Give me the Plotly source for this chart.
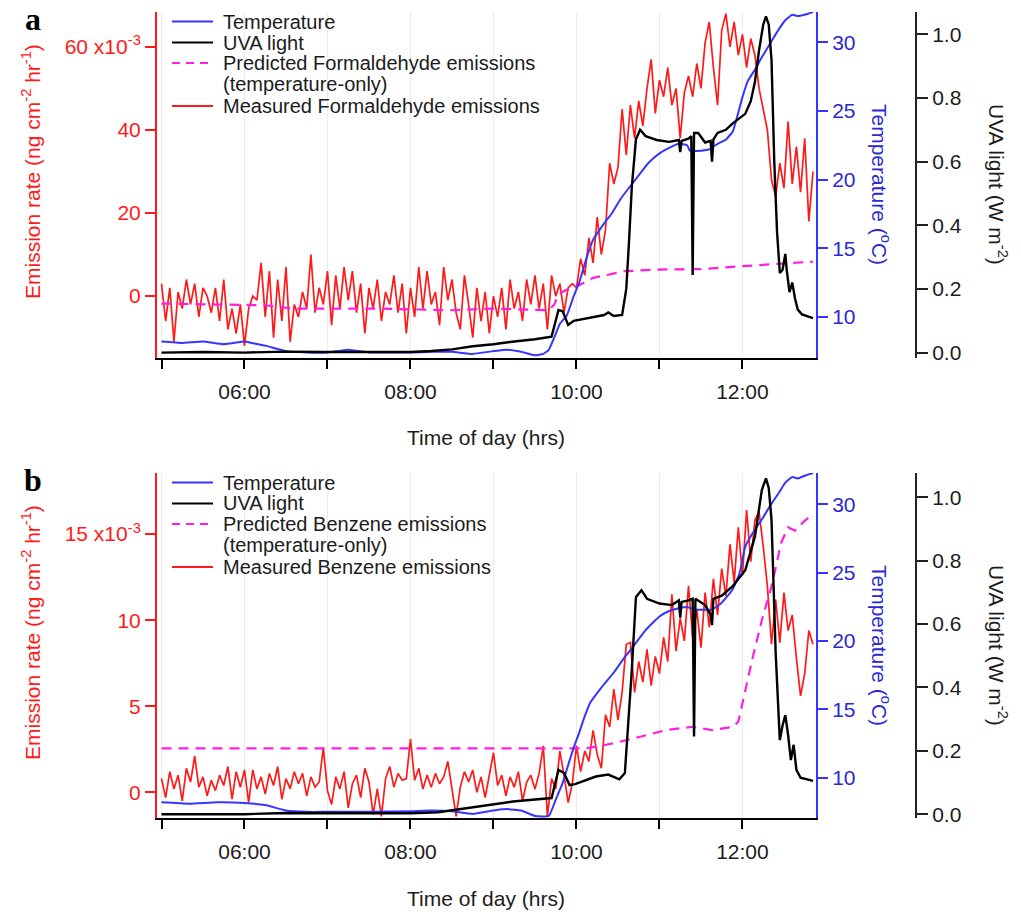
import plotly.graph_objects as go

W, H = 1021, 915
DAY = "2000-01-01 "

# ---------------- Panel a: formaldehyde ----------------
# measured emission rate (x10^-3 ng cm-2 hr-1), one sample every 3 min from 05:00
hcho_measured = [
    3, -6, 2, -11, 1, -3, 4, -2, 3, -5, 2, 0, -4, 2, -6, 4, -8, -3, -9, -2,
    -12, -3, 0, -1, 8, -5, 6, -10, 4, -6, 7, -11, -2, -5, 1, -3, 10, -4, 2, -2,
    6, -7, 5, -3, 7, -1, 6, -4, 3, -9, 2, -3, 4, -6, 1, -2, 5, -4, 3, -9,
    2, -5, 7, -3, 6, -2, 1, -7, 7, -1, 4, -4, -8, 5, -2, -10, 2, -6, 1, -9,
    0, -5, 2, -8, 4, -3, 1, -6, 4, -2, 5, -3, 3, -8, 5, 0, 3, -4, 2, 3,
    2, 9, 5, 14, 8, 19, 10, 16, 32, 27, 31, 45, 34, 46, 38, 47, 41, 50, 57, 44,
    52, 48, 55, 46, 50, 38, 49, 53, 48, 56, 50, 61, 66, 55, 46, 64, 68, 60, 66, 58,
    63, 55, 62, 58, 50, 45, 40, 28, 24, 32, 26, 42, 27, 36, 25, 38, 18, 30,
]

hcho_pred_time = ["05:00", "05:30", "06:00", "06:15", "06:35", "07:00", "07:40", "08:00",
                  "08:30", "09:00", "09:30", "09:40", "09:44", "09:47", "09:52", "10:00",
                  "10:12", "10:35", "11:00", "11:30", "12:00", "12:30", "12:51"]
hcho_pred = [-1.8, -1.9, -2.0, -2.2, -3.0, -3.0, -3.0, -3.2,
             -3.4, -3.0, -3.3, -3.4, -2.0, 0.4, 1.4, 2.3,
             4.4, 6.0, 6.4, 6.5, 7.2, 7.8, 8.3]

temp_a_time = ["05:00", "05:15", "05:30", "05:45", "06:00", "06:05", "06:15", "06:30", "06:45",
               "07:00", "07:15", "07:30", "07:45", "08:00", "08:15", "08:30", "08:45", "09:00",
               "09:10", "09:20", "09:30", "09:36", "09:40", "09:44", "09:48", "09:53", "09:58",
               "10:02", "10:07", "10:12", "10:20", "10:26", "10:32", "10:38", "10:45", "10:52",
               "11:00", "11:07", "11:14", "11:20", "11:22", "11:30", "11:36", "11:42", "11:48",
               "11:53", "11:56", "12:00", "12:04", "12:09", "12:14", "12:20", "12:26", "12:31",
               "12:36", "12:40", "12:45", "12:51"]
temp_a = [8.2, 8.1, 8.2, 8.0, 8.2, 8.1, 7.9, 7.5, 7.4,
          7.4, 7.6, 7.4, 7.4, 7.4, 7.45, 7.45, 7.3, 7.5,
          7.6, 7.45, 7.2, 7.3, 7.6, 8.5, 9.5, 10.1, 11.5,
          12.5, 14.2, 15.6, 16.8, 17.6, 18.6, 19.4, 20.3, 21.2,
          21.9, 22.3, 22.6, 22.5, 22.1, 22.1, 22.2, 22.6, 22.9,
          23.5, 24.5, 26.0, 27.2, 28.0, 28.9, 29.9, 30.9, 31.6,
          32.0, 31.9, 32.0, 32.2]

uva_a_time = ["05:00", "05:30", "06:00", "06:30", "07:00", "07:30", "08:00", "08:15", "08:30",
              "08:45", "09:00", "09:15", "09:30", "09:42", "09:45", "09:47", "09:50", "09:54",
              "09:58", "10:05", "10:14", "10:20", "10:23", "10:27", "10:33", "10:36", "10:38",
              "10:40", "10:43", "10:46", "10:50", "10:58", "11:07", "11:14", "11:15", "11:16",
              "11:21", "11:23", "11:24", "11:25", "11:28", "11:33", "11:37", "11:38", "11:39",
              "11:42", "11:48", "11:53", "12:02", "12:06", "12:09", "12:12", "12:15", "12:17",
              "12:19", "12:21", "12:23", "12:25", "12:27", "12:29", "12:31", "12:32", "12:34",
              "12:36", "12:38", "12:40", "12:43", "12:47", "12:51"]
uva_a = [0.0, 0.002, 0.0, 0.003, 0.002, 0.003, 0.002, 0.005, 0.01,
         0.02, 0.026, 0.035, 0.042, 0.05, 0.1, 0.134, 0.13, 0.087,
         0.1, 0.105, 0.113, 0.118, 0.126, 0.115, 0.118, 0.2, 0.35,
         0.52, 0.67, 0.70, 0.68, 0.668, 0.662, 0.668, 0.63, 0.665,
         0.672, 0.68, 0.244, 0.69, 0.69, 0.66, 0.665, 0.6, 0.67,
         0.69, 0.70, 0.72, 0.75, 0.79, 0.85, 0.95, 1.03, 1.056,
         1.03, 0.92, 0.6, 0.38, 0.25, 0.26, 0.31, 0.26, 0.19,
         0.22, 0.17, 0.135, 0.12, 0.113, 0.108]

# ---------------- Panel b: benzene ----------------
benz_measured = [
    0.8, -0.3, 1.2, 0.2, 1.0, -0.5, 1.4, 0.6, 2.1, 0.3, 0.9, -0.2, 0.7, 0.1, 1.0, 0.4, 1.5, -0.4, 1.2, 0.3,
    1.3, -0.6, 1.3, 0.2, 0.9, -0.1, 1.1, 0.4, 1.5, -0.4, 0.8, 0.2, 1.2, 0.5, 1.1, -0.2, 0.9, 0.3, 0.6, 2.6,
    0.1, -0.7, 0.9, 0.2, 1.2, -0.9, 0.5, 1.0, -0.3, 1.4, 0.6, -1.3, 0.2, -1.4, 0.8, 1.5, 0.3, 1.1, 0.7, 0.8,
    3.1, 0.7, 1.4, 0.2, 1.0, 0.3, 1.1, 0.5, 0.9, 1.8, 0.2, -1.4, 0.3, 1.2, 0.6, 1.3, 0.0, 0.9, -0.3, 1.1,
    2.3, 0.4, 1.0, -0.2, 0.9, 0.3, 1.2, -0.5, 0.6, 1.0, 0.2, 1.1, 2.7, -1.4, 0.8, 0.2, 2.4, 1.0, -0.6, 0.5,
    2.7, 1.2, 2.4, 1.8, 3.6, 2.2, 1.4, 4.5, 3.8, 6.0, 4.2, 5.8, 8.6, 8.7, 5.8, 7.6, 6.4, 8.3, 6.2, 7.9,
    6.9, 9.0, 7.6, 11.5, 8.2, 10.1, 8.8, 12.0, 9.0, 10.6, 8.4, 11.6, 9.6, 12.4, 10.3, 13.0, 11.4, 14.4, 12.2, 15.4,
    12.6, 16.4, 13.4, 15.8, 16.3, 14.3, 12.0, 8.6, 11.2, 8.7, 11.6, 9.4, 10.3, 7.8, 5.6, 6.9, 9.4, 8.6,
]

benz_pred_time = ["05:00", "10:04", "10:10", "10:27", "10:46", "11:05", "11:24", "11:38", "11:53",
                  "11:57", "12:00", "12:07", "12:14", "12:21", "12:28", "12:33", "12:38", "12:44", "12:51"]
benz_pred = [2.55, 2.55, 2.6, 2.85, 3.23, 3.62, 3.81, 3.62, 3.8,
             4.1, 5.17, 7.7, 10.0, 11.95, 14.5, 15.4, 15.2, 15.7, 16.2]

temp_b_time = ["05:00", "05:20", "05:40", "06:00", "06:15", "06:30", "06:45", "07:00", "07:30",
               "08:00", "08:15", "08:30", "08:45", "09:00", "09:10", "09:20", "09:30", "09:40",
               "09:45", "09:50", "09:53", "09:58", "10:02", "10:06", "10:10", "10:18", "10:27",
               "10:34", "10:41", "10:50", "11:00", "11:07", "11:14", "11:20", "11:26", "11:32",
               "11:38", "11:45", "11:53", "11:58", "12:02", "12:08", "12:14", "12:20", "12:26",
               "12:31", "12:36", "12:40", "12:45", "12:51"]
temp_b = [8.2, 8.1, 8.2, 8.15, 8.0, 7.6, 7.5, 7.5, 7.5,
          7.55, 7.6, 7.55, 7.35, 7.6, 7.7, 7.6, 7.2, 7.2,
          8.4, 9.6, 10.6, 12.2, 13.3, 14.5, 15.5, 16.6, 17.7,
          18.7, 19.6, 20.8, 21.8, 22.2, 22.4, 22.5, 22.3, 22.3,
          22.3, 22.8, 23.8, 25.0, 26.9, 28.0, 28.9, 29.9, 30.8,
          31.6, 32.0, 31.9, 32.1, 32.3]

uva_b_time = ["05:00", "06:00", "06:30", "07:00", "07:30", "08:00", "08:20", "08:30", "08:50",
              "09:14", "09:42", "09:45", "09:47", "09:51", "09:55", "09:59", "10:14", "10:23",
              "10:31", "10:35", "10:37", "10:40", "10:43", "10:47", "10:51", "11:00", "11:09",
              "11:14", "11:15", "11:16", "11:21", "11:24", "11:25", "11:26", "11:33", "11:37",
              "11:38", "11:39", "11:45", "11:53", "12:02", "12:09", "12:14", "12:17", "12:19",
              "12:21", "12:24", "12:26", "12:27", "12:29", "12:31", "12:33", "12:35", "12:37",
              "12:39", "12:42", "12:46", "12:51"]
uva_b = [0.0, 0.0, 0.004, 0.003, 0.002, 0.003, 0.006, 0.012, 0.024,
         0.04, 0.051, 0.11, 0.14, 0.13, 0.092, 0.095, 0.119, 0.125,
         0.11, 0.13, 0.25, 0.455, 0.686, 0.707, 0.68, 0.665, 0.66,
         0.675, 0.62, 0.67, 0.675, 0.68, 0.245, 0.68, 0.66, 0.63,
         0.597, 0.68, 0.69, 0.72, 0.77, 0.876, 1.023, 1.06, 1.03,
         0.93, 0.51, 0.3, 0.234, 0.28, 0.313, 0.25, 0.171, 0.219,
         0.14, 0.115, 0.11, 0.105]

# ---------------- helpers ----------------
RED = "#ff1a1a"
BLUE = "#3535ff"
BLUE_TXT = "#2a2ad0"
MAGENTA = "#ff1ee0"
BLACK = "#000000"
TXT = "#1c1c1c"
FONT = "Liberation Sans, Arial, sans-serif"
FS = 21
FS_LEG = 20


def px(x):
    return x / W


def py(y):
    return 1 - y / H


def stamp(times):
    return [DAY + t for t in times]


emis_time = stamp([f"{(300 + 3 * i) // 60:02d}:{(300 + 3 * i) % 60:02d}"
                   for i in range(len(hcho_measured))])

fig = go.Figure()

panels = [
    dict(x="x", y="y", y2="y2", y3="y3", meas=hcho_measured, pt=hcho_pred_time, pv=hcho_pred,
         tt=temp_a_time, tv=temp_a, ut=uva_a_time, uv=uva_a),
    dict(x="x2", y="y4", y2="y5", y3="y6", meas=benz_measured, pt=benz_pred_time, pv=benz_pred,
         tt=temp_b_time, tv=temp_b, ut=uva_b_time, uv=uva_b),
]

for p in panels:
    fig.add_trace(go.Scatter(x=emis_time, y=p["meas"], mode="lines", xaxis=p["x"], yaxis=p["y"],
                             line=dict(color=RED, width=1.7), showlegend=False))
    fig.add_trace(go.Scatter(x=stamp(p["pt"]), y=p["pv"], mode="lines", xaxis=p["x"], yaxis=p["y"],
                             line=dict(color=MAGENTA, width=2.2, dash="10px,7px"), showlegend=False))
    fig.add_trace(go.Scatter(x=stamp(p["tt"]), y=p["tv"], mode="lines", xaxis=p["x"], yaxis=p["y2"],
                             line=dict(color=BLUE, width=2, shape="spline", smoothing=0.4),
                             showlegend=False))
    fig.add_trace(go.Scatter(x=stamp(p["ut"]), y=p["uv"], mode="lines", xaxis=p["x"], yaxis=p["y3"],
                             line=dict(color=BLACK, width=2.4), showlegend=False))


def xaxis_cfg(anchor):
    return dict(
        domain=[px(157), px(816)], anchor=anchor, type="date",
        range=[DAY + "04:56:45", DAY + "12:53:10"],
        tick0=DAY + "00:00", dtick=7200000, tickformat="%H:%M",
        ticks="outside", ticklen=9, tickwidth=1.5, tickcolor=BLACK,
        showline=True, linecolor=BLACK, linewidth=1.5,
        showgrid=True, gridcolor="#ececec", gridwidth=1, zeroline=False,
        minor=dict(dtick=3600000, tick0=DAY + "00:00", ticks="outside", ticklen=9,
                   tickwidth=1.5, tickcolor=BLACK, showgrid=True, gridcolor="#ececec"),
        tickfont=dict(family=FONT, size=FS, color=TXT), ticklabelstandoff=5,
        automargin=False, fixedrange=True)


def red_axis(anchor, top, bottom, rng, vals, text):
    return dict(domain=[py(bottom), py(top)], anchor=anchor, range=rng,
                tickmode="array", tickvals=vals, ticktext=text,
                ticks="outside", ticklen=10, tickwidth=1.5, tickcolor=RED,
                showline=True, linecolor=RED, linewidth=2,
                showgrid=False, zeroline=False,
                tickfont=dict(family=FONT, size=FS, color=RED),
                automargin=False, fixedrange=True)


def temp_axis(over, anchor, rng):
    return dict(overlaying=over, anchor=anchor, side="right", range=rng,
                tickmode="array", tickvals=[10, 15, 20, 25, 30],
                ticks="outside", ticklen=10, tickwidth=1.5, tickcolor=BLUE,
                showline=True, linecolor=BLUE, linewidth=2,
                showgrid=False, zeroline=False,
                tickfont=dict(family=FONT, size=FS, color=BLUE_TXT),
                automargin=False, fixedrange=True)


def uva_axis(over, rng):
    return dict(overlaying=over, anchor="free", position=px(916), side="right", range=rng,
                tickmode="array", tickvals=[0, 0.2, 0.4, 0.6, 0.8, 1.0], tickformat=".1f",
                ticks="outside", ticklen=11, tickwidth=1.5, tickcolor="#222222",
                showline=True, linecolor="#222222", linewidth=2,
                showgrid=False, zeroline=False,
                tickfont=dict(family=FONT, size=FS, color=TXT),
                automargin=False, fixedrange=True)


fig.update_layout(
    width=W, height=H, autosize=False,
    margin=dict(l=0, r=0, t=0, b=0),
    paper_bgcolor="white", plot_bgcolor="white",
    font=dict(family=FONT, size=FS, color=TXT),
    showlegend=False,
    xaxis=xaxis_cfg("y"),
    xaxis2=xaxis_cfg("y4"),
    yaxis=red_axis("x", 12, 358, [-14.9, 68.4], [0, 20, 40, 60],
                   ["0", "20", "40", "60 x10<sup>-3</sup>"]),
    yaxis2=temp_axis("y", "x", [7.0, 32.2]),
    yaxis3=uva_axis("y", [-0.017, 1.07]),
    yaxis4=red_axis("x2", 473, 818, [-1.49, 18.55], [0, 5, 10, 15],
                    ["0", "5", "10", "15 x10<sup>-3</sup>"]),
    yaxis5=temp_axis("y4", "x2", [7.05, 32.3]),
    yaxis6=uva_axis("y4", [-0.012, 1.077]),
)

# axis titles, panel letters and legends
ann = []
shapes = []
for top, name, letter in [(12, "Formaldehyde", "a"), (473, "Benzene", "b")]:
    mid = top + 172
    ann.append(dict(text="Emission rate (ng cm<sup>-2</sup> hr<sup>-1</sup>)", textangle=-90,
                    x=px(31), y=py(top + 160), xref="paper", yref="paper",
                    xanchor="center", yanchor="middle", showarrow=False,
                    font=dict(family=FONT, size=FS, color=RED)))
    ann.append(dict(text="Temperature (<sup>o</sup>C)", textangle=90,
                    x=px(881), y=py(mid), xref="paper", yref="paper",
                    xanchor="center", yanchor="middle", showarrow=False,
                    font=dict(family=FONT, size=FS, color=BLUE_TXT)))
    ann.append(dict(text="UVA light (W m<sup>-2</sup>)", textangle=90,
                    x=px(998), y=py(mid), xref="paper", yref="paper",
                    xanchor="center", yanchor="middle", showarrow=False,
                    font=dict(family=FONT, size=FS, color=TXT)))
    ann.append(dict(text="Time of day (hrs)", x=px(486), y=py(top + 425),
                    xref="paper", yref="paper", xanchor="center", yanchor="middle",
                    showarrow=False, font=dict(family=FONT, size=FS, color=TXT)))
    ann.append(dict(text=f"<b>{letter}</b>", x=px(33), y=py(top + 7),
                    xref="paper", yref="paper", xanchor="center", yanchor="middle",
                    showarrow=False, font=dict(family="Liberation Serif, serif", size=32, color=BLACK)))

    rows = [
        (9.5, "Temperature", BLUE, "solid"),
        (30.5, "UVA light", BLACK, "solid"),
        (51.0, f"Predicted {name} emissions", MAGENTA, "dash"),
        (72.0, "(temperature-only)", None, None),
        (94.0, f"Measured {name} emissions", RED, "solid"),
    ]
    for off, label, color, dash in rows:
        yy = top + off
        ann.append(dict(text=label, x=px(221), y=py(yy), xref="paper", yref="paper",
                        xanchor="left", yanchor="middle", showarrow=False,
                        font=dict(family=FONT, size=FS_LEG, color=TXT)))
        if color:
            shapes.append(dict(type="line", xref="paper", yref="paper",
                               x0=px(172), x1=px(213), y0=py(yy), y1=py(yy),
                               line=dict(color=color, width=2,
                                         dash="8px,6px" if dash == "dash" else "solid")))

fig.update_layout(annotations=ann, shapes=shapes)

fig.write_html("out.html", config={"displayModeBar": False})
